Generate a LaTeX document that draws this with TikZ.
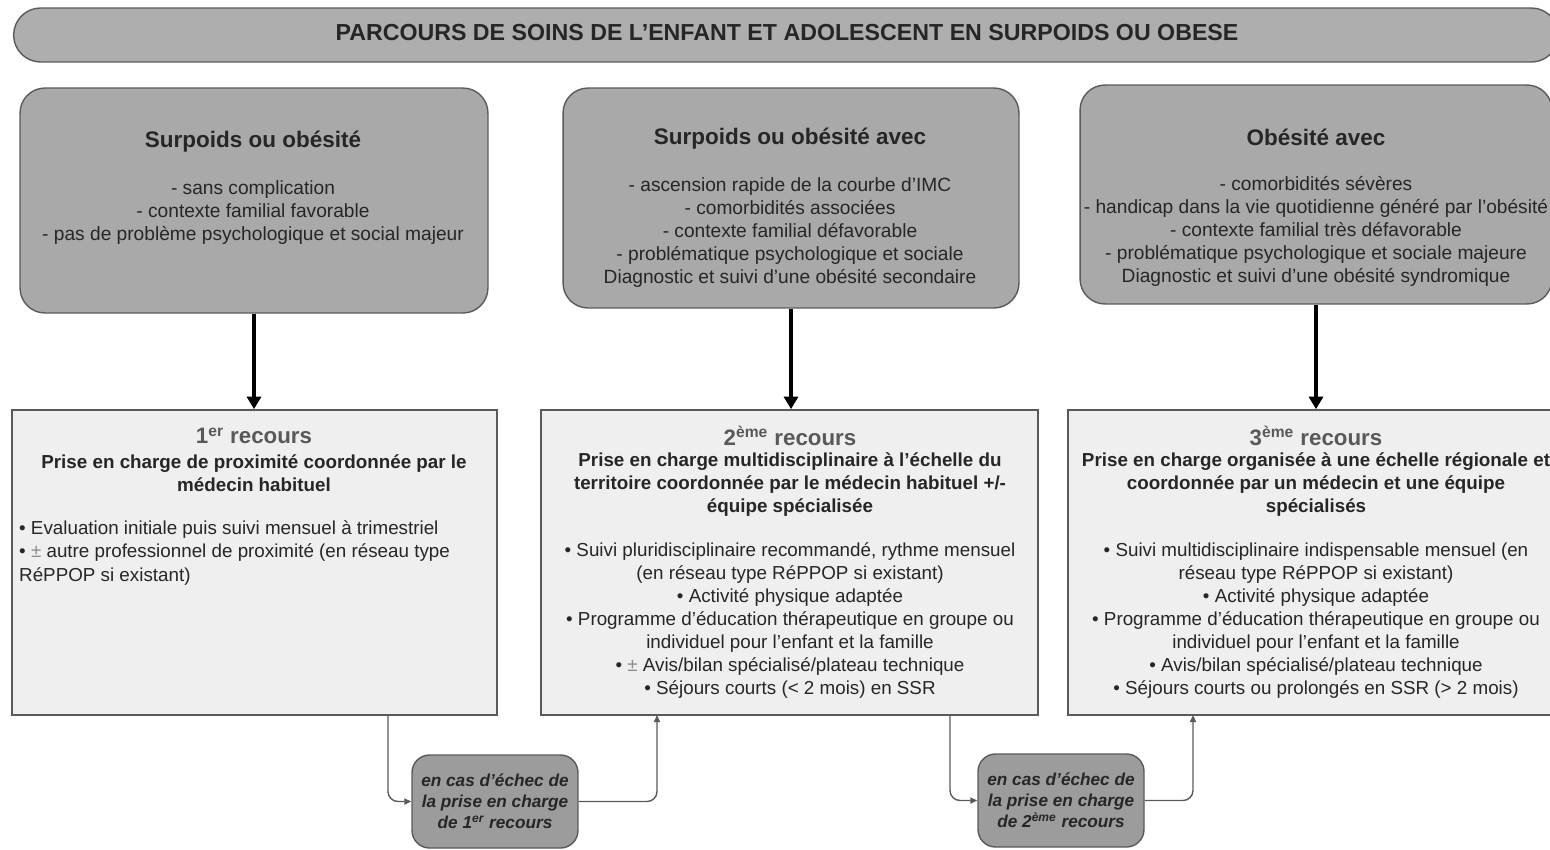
\documentclass[tikz,border=0pt]{standalone}
\usepackage{fontspec}
\setmainfont{Liberation Sans}
\usetikzlibrary{arrows.meta}

\definecolor{bargray}{HTML}{AEAEAE}
\definecolor{boxgray}{HTML}{A9A9A9}
\definecolor{panelgray}{HTML}{EFEFEF}
\definecolor{notegray}{HTML}{9C9C9C}
\definecolor{edgegray}{HTML}{5A5A5A}
\definecolor{inkgray}{HTML}{262626}

\tikzset{
  situation/.style={draw=edgegray, fill=boxgray, line width=0.8pt, rounded corners=0.5cm, inner sep=0pt},
  recours/.style={draw=edgegray, fill=panelgray, line width=1pt, inner sep=0pt},
  echec/.style={draw=edgegray, fill=notegray, line width=0.8pt, rounded corners=0.35cm, inner sep=0pt,
    minimum width=3.32cm, minimum height=1.86cm, align=center,
    font=\fontsize{9.8}{11.9}\selectfont\bfseries\itshape, text=inkgray},
  sittitle/.style={font=\fontsize{12.8}{14}\selectfont\bfseries, text=inkgray},
  sitlist/.style={align=center, font=\fontsize{10.9}{13.1}\selectfont, text=inkgray},
  rectitle/.style={font=\fontsize{12.7}{15}\selectfont\bfseries, text=black!65},
  recbold/.style={align=center, font=\fontsize{10.7}{13.1}\selectfont\bfseries, text=inkgray},
  reclist/.style={align=center, font=\fontsize{10.7}{13.1}\selectfont, text=inkgray},
  descend/.style={line width=2.2pt, -{Triangle[length=0.25cm,width=0.28cm]}},
  flow/.style={draw=edgegray, line width=0.8pt, rounded corners=0.2cm, -{Triangle[length=4pt,width=3.5pt]}},
}

\begin{document}
\begin{tikzpicture}[x=0.02cm, y=-0.02cm]
    \useasboundingbox (0,0) rectangle (1550,849);

    % bandeau
    \node[situation, fill=bargray, rounded corners=0.54cm, minimum width=30.9cm, minimum height=1.08cm] (bandeau) at (786,35) {};
    \node[font=\fontsize{13.2}{15}\selectfont\bfseries, text=inkgray] (titre) at (787,33) {PARCOURS DE SOINS DE L’ENFANT ET ADOLESCENT EN SURPOIDS OU OBESE};

    % situations
    \node[situation, minimum width=9.36cm, minimum height=4.5cm] (sit1) at (254,200.5) {};
    \node[situation, minimum width=9.12cm, minimum height=4.4cm] (sit2) at (791,198) {};
    \node[situation, minimum width=9.44cm, minimum height=4.38cm] (sit3) at (1316,194.5) {};

    \node[sittitle] (sit1titre) at (253,142) {Surpoids ou obésité};
    \node[sitlist] (sit1liste) at (253,213) {- sans complication\\- contexte familial favorable\\- pas de problème psychologique et social majeur};
    \node[sittitle] (sit2titre) at (790,139) {Surpoids ou obésité avec};
    \node[sitlist] (sit2liste) at (790,233) {- ascension rapide de la courbe d’IMC\\- comorbidités associées\\- contexte familial défavorable\\- problématique psychologique et sociale\\Diagnostic et suivi d’une obésité secondaire};
    \node[sittitle] (sit3titre) at (1316,137) {Obésité avec};
    \node[sitlist] (sit3liste) at (1316,231) {- comorbidités sévères\\- handicap dans la vie quotidienne généré par l’obésité\\- contexte familial très défavorable\\- problématique psychologique et sociale majeure\\Diagnostic et suivi d’une obésité syndromique};

    % recours
    \node[recours, minimum width=9.7cm, minimum height=6.1cm] (rec1) at (254.5,562.5) {};
    \node[recours, minimum width=9.94cm, minimum height=6.1cm] (rec2) at (789.5,562.5) {};
    \node[recours, minimum width=9.92cm, minimum height=6.1cm] (rec3) at (1316,562.5) {};

    \node[rectitle] (rec1titre) at (254,436) {1\textsuperscript{er} recours};
    \node[recbold] (rec1bold) at (254,473.5) {Prise en charge de proximité coordonnée par le\\médecin habituel};
    \node[reclist, align=left, anchor=west] (rec1liste) at (13,553) {• Evaluation initiale puis suivi mensuel à trimestriel\\• {\color{black!45}±} autre professionnel de proximité (en réseau type\\RéPPOP si existant)};

    \node[rectitle] (rec2titre) at (790,436) {2\textsuperscript{ème} recours};
    \node[recbold] (rec2bold) at (790,485) {Prise en charge multidisciplinaire à l’échelle du\\territoire coordonnée par le médecin habituel +/-\\équipe spécialisée};
    \node[reclist] (rec2liste) at (790,620.5) {• Suivi pluridisciplinaire recommandé, rythme mensuel\\(en réseau type RéPPOP si existant)\\• Activité physique adaptée\\• Programme d’éducation thérapeutique en groupe ou\\individuel pour l’enfant et la famille\\• {\color{black!45}±} Avis/bilan spécialisé/plateau technique\\• Séjours courts (< 2 mois) en SSR};

    \node[rectitle] (rec3titre) at (1316,436) {3\textsuperscript{ème} recours};
    \node[recbold] (rec3bold) at (1316,485) {Prise en charge organisée à une échelle régionale et\\coordonnée par un médecin et une équipe\\spécialisés};
    \node[reclist] (rec3liste) at (1316,620.5) {• Suivi multidisciplinaire indispensable mensuel (en\\réseau type RéPPOP si existant)\\• Activité physique adaptée\\• Programme d’éducation thérapeutique en groupe ou\\individuel pour l’enfant et la famille\\• Avis/bilan spécialisé/plateau technique\\• Séjours courts ou prolongés en SSR (> 2 mois)};

    % echecs
    \node[echec] (echec1) at (495,801.5) {en cas d’échec de\\la prise en charge\\de 1\textsuperscript{er} recours};
    \node[echec] (echec2) at (1061,800.5) {en cas d’échec de\\la prise en charge\\de 2\textsuperscript{ème} recours};

    \draw[descend] (sit1) -- (rec1.north -| sit1);
    \draw[descend] (sit2) -- (rec2.north -| sit2);
    \draw[descend] (sit3) -- (rec3.north -| sit3);

    \coordinate (depart1) at (388,715);
    \coordinate (retour1) at (657,715);
    \coordinate (depart2) at (950,715);
    \coordinate (retour2) at (1193,715);
    \draw[flow] (depart1) |- (echec1.west);
    \draw[flow] (echec1.east) -| (retour1);
    \draw[flow] (depart2) |- (echec2.west);
    \draw[flow] (echec2.east) -| (retour2);
\end{tikzpicture}
\end{document}
